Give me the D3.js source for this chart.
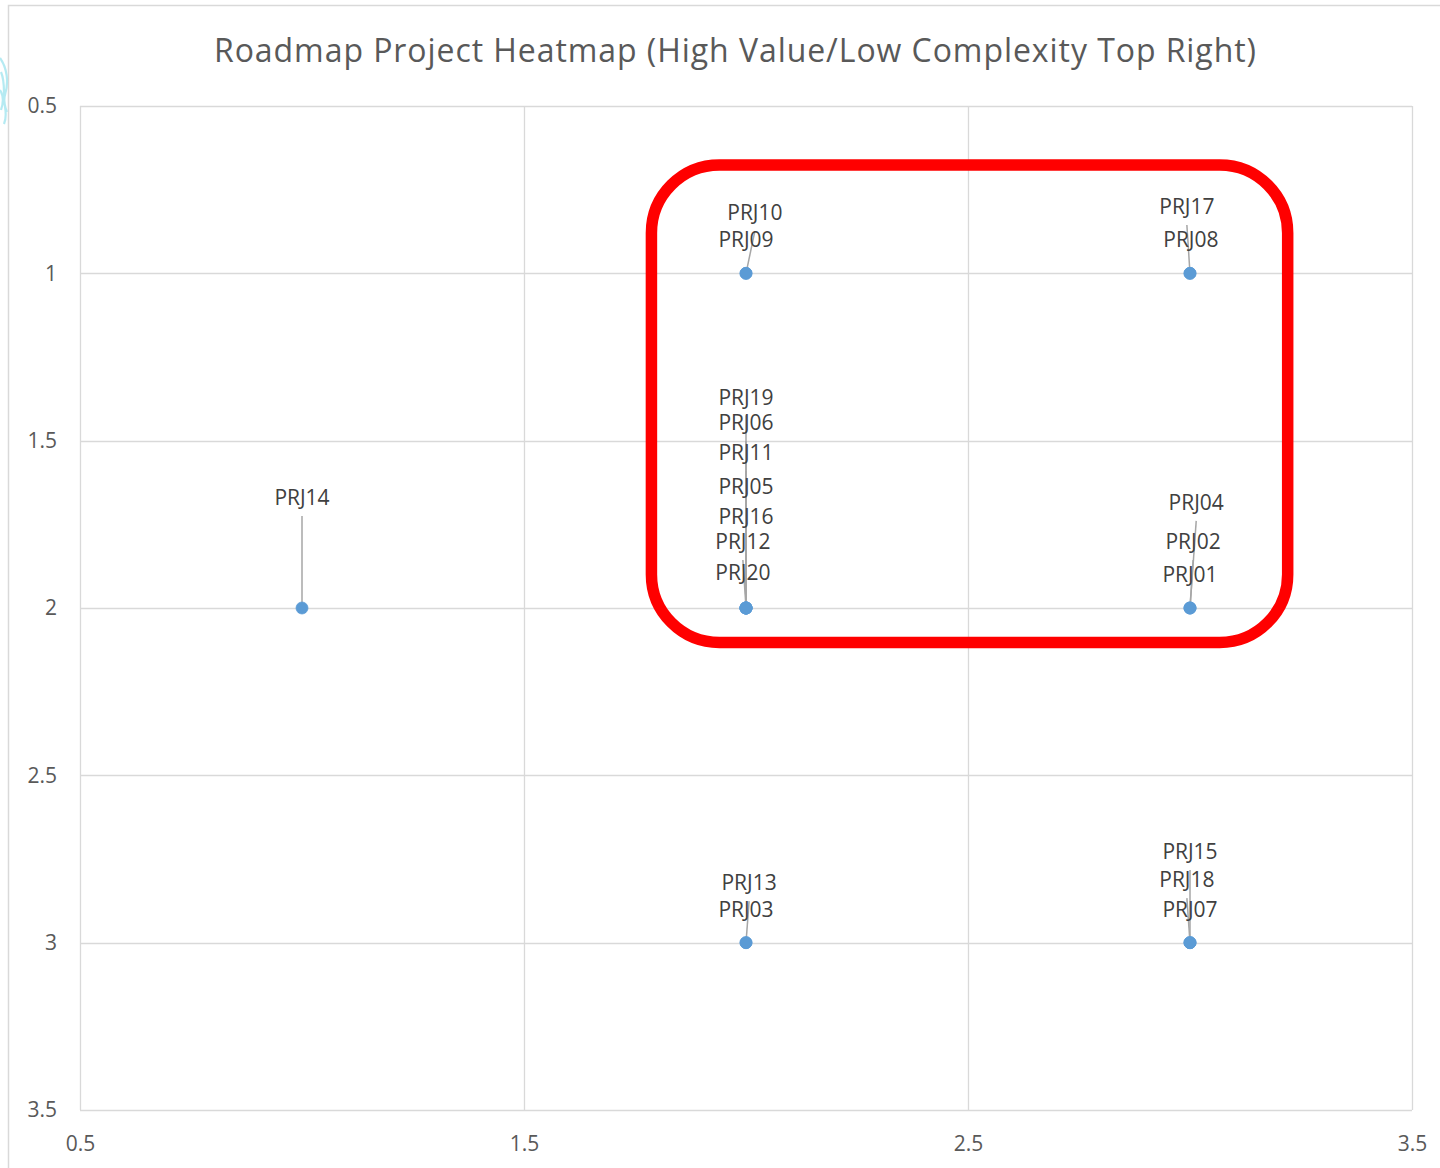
<!DOCTYPE html>
<html>
<head>
<meta charset="utf-8">
<script src="https://cdn.jsdelivr.net/npm/d3@7"></script>
<style>
  html, body { margin: 0; padding: 0; background: #ffffff; }
  svg { display: block; }
</style>
</head>
<body>
<svg id="chart" width="1440" height="1168"></svg>
<script>
// ---- data ----
const titleText = "Roadmap Project Heatmap (High Value/Low Complexity Top Right)";
const xTicks = [0.5, 1.5, 2.5, 3.5];
const yTicks = [0.5, 1, 1.5, 2, 2.5, 3, 3.5];
const xDomain = [0.5, 3.5];
const yDomain = [0.5, 3.5];

// projects: name, x (value), y (complexity)
const projectNames = ["PRJ01","PRJ02","PRJ03","PRJ04","PRJ05","PRJ06","PRJ07","PRJ08","PRJ09","PRJ10",
                      "PRJ11","PRJ12","PRJ13","PRJ14","PRJ15","PRJ16","PRJ17","PRJ18","PRJ19","PRJ20"];
const projectX = [3,3,2,3,2,2,3,3,2,2, 2,2,2,1,3,2,3,3,2,2];
const projectY = [2,2,3,2,2,2,3,1,1,1, 2,2,3,2,3,2,1,3,2,2];
// label anchor positions (data units)
const labelX = [3.000,3.007,2.000,3.014,2.000,2.000,3.000,3.002,2.000,2.020,
                2.000,1.993,2.007,1.000,3.000,2.000,2.993,2.993,2.000,1.993];
const labelY = [1.901,1.803,2.902,1.686,1.638,1.447,2.902,0.900,0.900,0.820,
                1.537,1.803,2.822,1.671,2.729,1.728,0.802,2.813,1.370,1.895];

// highlight box (data units)
const boxX = [1.787, 3.220];
const boxY = [0.676, 2.103];

// ---- layout ----
const svg = d3.select("#chart");
const plot = { left: 80, right: 1412, top: 106, bottom: 1110 };
const x = d3.scaleLinear().domain(xDomain).range([plot.left, plot.right]);
const y = d3.scaleLinear().domain(yDomain).range([plot.top, plot.bottom]);

const gridColor = "#d9d9d9";
const textColor = "#595959";
const fontFam = "'Open Sans', 'Noto Sans', sans-serif";

// outer chart border
svg.append("rect")
  .attr("x", 8.5).attr("y", 5.5).attr("width", 1500).attr("height", 1200)
  .attr("fill", "#ffffff").attr("stroke", gridColor).attr("stroke-width", 1.5);

// faint cyan artifact on left edge
svg.append("path")
  .attr("d", "M0,58 C7,68 9,82 5,95 C2,104 9,112 4,124 M1,72 C7,86 1,100 7,112 M0,90 C4,96 3,104 1,110")
  .attr("fill", "none").attr("stroke", "#a8e6f0").attr("stroke-width", 2.2).attr("opacity", 0.85);

// gridlines
const gGrid = svg.append("g");
gGrid.selectAll("line.h").data(yTicks).join("line")
  .attr("x1", plot.left).attr("x2", plot.right)
  .attr("y1", d => Math.round(y(d)) + 0.5).attr("y2", d => Math.round(y(d)) + 0.5)
  .attr("stroke", gridColor).attr("stroke-width", 1.3);
gGrid.selectAll("line.v").data(xTicks).join("line")
  .attr("y1", plot.top).attr("y2", plot.bottom)
  .attr("x1", d => Math.round(x(d)) + 0.5).attr("x2", d => Math.round(x(d)) + 0.5)
  .attr("stroke", gridColor).attr("stroke-width", 1.3);

// axes (labels only)
const yAxis = d3.axisLeft(y).tickValues(yTicks).tickSize(0).tickPadding(23)
  .tickFormat(d3.format("~g"));
const gy = svg.append("g").attr("transform", `translate(${plot.left},0)`).call(yAxis);
gy.select(".domain").remove();
gy.selectAll("text").attr("fill", textColor).style("font-family", fontFam).style("font-size", "21px");

const xAxis = d3.axisBottom(x).tickValues(xTicks).tickSize(0).tickPadding(26)
  .tickFormat(d3.format("~g"));
const gx = svg.append("g").attr("transform", `translate(0,${plot.bottom})`).call(xAxis);
gx.select(".domain").remove();
gx.selectAll("text").attr("fill", textColor).style("font-family", fontFam).style("font-size", "21px");

// title
svg.append("text")
  .attr("x", 735).attr("y", 62)
  .attr("text-anchor", "middle")
  .attr("fill", textColor)
  .style("font-family", fontFam).style("font-size", "32px")
  .attr("textLength", 1042).attr("lengthAdjust", "spacing")
  .text(titleText);

// project records
const projects = projectNames.map((n, i) => ({
  name: n, x: projectX[i], y: projectY[i], lx: labelX[i], ly: labelY[i]
}));

// leader lines
const gLead = svg.append("g");
projects.forEach(p => {
  const px = x(p.x), py = y(p.y);
  const tx = x(p.lx), ty = y(p.ly);
  if (Math.abs(py - ty) > 50) {
    gLead.append("line")
      .attr("x1", px).attr("y1", py)
      .attr("x2", tx).attr("y2", ty + 18)
      .attr("stroke", "#a6a6a6").attr("stroke-width", 1.5);
  }
});

// points
svg.append("g").selectAll("circle").data(projects).join("circle")
  .attr("cx", d => x(d.x)).attr("cy", d => y(d.y)).attr("r", 6)
  .attr("fill", "#5b9bd5").attr("stroke", "#5b9bd5").attr("stroke-width", 0.75);

// labels
svg.append("g").selectAll("text").data(projects).join("text")
  .attr("x", d => x(d.lx)).attr("y", d => y(d.ly))
  .attr("dy", "0.35em")
  .attr("text-anchor", "middle")
  .attr("fill", "#404040")
  .style("font-family", fontFam).style("font-size", "21px")
  .text(d => d.name);

// highlight rounded box
svg.append("rect")
  .attr("x", x(boxX[0])).attr("y", y(boxY[0]))
  .attr("width", x(boxX[1]) - x(boxX[0])).attr("height", y(boxY[1]) - y(boxY[0]))
  .attr("rx", 68).attr("ry", 68)
  .attr("fill", "none").attr("stroke", "#ff0000").attr("stroke-width", 11.5);
</script>
</body>
</html>
